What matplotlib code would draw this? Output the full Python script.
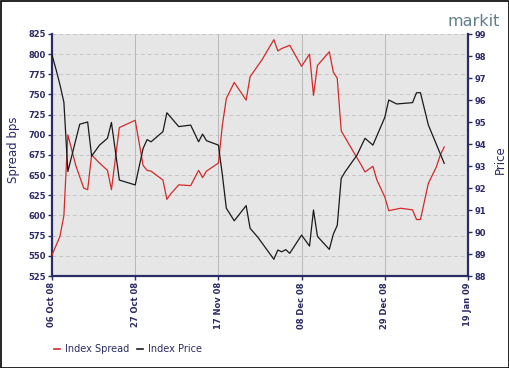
import matplotlib
matplotlib.use("Agg")
import matplotlib.pyplot as plt
import matplotlib.dates as mdates
import pandas as pd
from matplotlib.lines import Line2D
from matplotlib.patches import Rectangle

start = pd.Timestamp("2008-10-06")

# Index Spread (bps): day offsets from 06 Oct 08 and values
spread_days = [0, 2, 3, 4, 6, 8, 9, 10, 12, 14, 15, 17, 21, 23, 24, 25, 28, 29, 30, 32,
               35, 37, 38, 39, 42, 43, 44, 46, 49, 50, 53, 56, 57, 58, 60, 63, 65, 66,
               67, 70, 71, 72, 73, 75, 78, 79, 81, 82, 84, 85, 88, 91, 92, 93, 95, 97,
               98, 99]
spread_vals = [551, 574, 600, 700, 662, 634, 632, 675, 665, 656, 632, 709, 718, 662, 656,
               655, 644, 620, 627, 638, 637, 656, 647, 655, 665, 712, 745, 765, 743, 772,
               793, 818, 804, 807, 811, 785, 800, 749, 786, 803, 778, 770, 705, 688, 663,
               654, 661, 644, 623, 606, 609, 607, 595, 595, 640, 660, 675, 685]

# Index Price: day offsets from 06 Oct 08 and values
price_days = [0, 1, 2, 3, 4, 7, 9, 10, 12, 14, 15, 17, 21, 23, 24, 25, 28, 29, 32, 35,
              37, 38, 39, 42, 43, 44, 46, 49, 50, 52, 56, 57, 58, 59, 60, 63, 65, 66, 67,
              70, 71, 72, 73, 74, 77, 79, 81, 84, 85, 87, 91, 92, 93, 95, 99]
price_vals = [98.05, 97.4, 96.7, 95.9, 92.75, 94.9, 95.0, 93.45, 93.95, 94.26, 94.98,
              92.36, 92.14, 93.8, 94.2, 94.1, 94.56, 95.42, 94.79, 94.86, 94.1, 94.45,
              94.15, 93.95, 92.6, 91.08, 90.51, 91.2, 90.17, 89.75, 88.76, 89.18, 89.1,
              89.2, 89.03, 89.86, 89.36, 91.0, 89.8, 89.21, 89.9, 90.3, 92.44, 92.74, 93.5,
              94.26, 93.95, 95.21, 96.0, 95.82, 95.88, 96.33, 96.33, 94.86, 93.12]

xtick_days = [0, 21, 42, 63, 84, 105]
spread_ticks = list(range(525, 826, 25))
price_ticks = list(range(88, 100))

NAVY = "#2b2b66"
RED = "#d42a2a"
BLACK = "#1a1a1a"

spread_dates = [start + pd.Timedelta(days=d) for d in spread_days]
price_dates = [start + pd.Timedelta(days=d) for d in price_days]
xtick_dates = [start + pd.Timedelta(days=d) for d in xtick_days]

fig = plt.figure(figsize=(5.10, 3.68), dpi=100)
fig.patch.set_facecolor("white")
ax = fig.add_axes([52 / 510, 1 - 276 / 368, 416 / 510, 242 / 368])
ax.set_facecolor("#e6e6e6")
ax2 = ax.twinx()

ax.plot(spread_dates, spread_vals, color=RED, lw=0.9, zorder=3)
ax2.plot(price_dates, price_vals, color=BLACK, lw=0.9, zorder=3)

ax.set_xlim(xtick_dates[0], xtick_dates[-1])
ax.set_ylim(525, 825)
ax2.set_ylim(88, 99)
ax.set_xticks(xtick_dates)
ax.xaxis.set_major_formatter(mdates.DateFormatter("%d %b %y"))
ax.set_yticks(spread_ticks)
ax2.set_yticks(price_ticks)

for t in ax.get_xticklabels():
    t.set_rotation(90)
for a in (ax, ax2):
    a.tick_params(axis="both", colors=NAVY, labelsize=6, length=3, width=1, pad=1.5)
    for t in a.get_xticklabels() + a.get_yticklabels():
        t.set_fontweight("bold")
        t.set_color(NAVY)
    for s in a.spines.values():
        s.set_visible(False)

ax.spines["left"].set_visible(True)
ax.spines["bottom"].set_visible(True)
ax2.spines["right"].set_visible(True)
for s in (ax.spines["left"], ax.spines["bottom"], ax2.spines["right"]):
    s.set_color(NAVY)
    s.set_linewidth(1.6)

ax.yaxis.grid(True, color="#c4c4c4", lw=0.7, ls=(0, (4, 3)))
ax.xaxis.grid(True, color="#b8b8b8", lw=0.7, ls="-")
ax.set_axisbelow(True)
ax2.patch.set_visible(False)

fig.text(14 / 510, 1 - 150 / 368, "Spread bps", rotation=90, ha="center", va="center",
         fontsize=8.5, color=NAVY)
fig.text(500 / 510, 1 - 160 / 368, "Price", rotation=90, ha="center", va="center",
         fontsize=8.5, color=NAVY)

fig.text(500 / 510, 1 - 22 / 368, "markit", ha="right", va="center", fontsize=11.5,
         color="#5f7f8c", family="DejaVu Sans")

handles = [Line2D([], [], color=RED, lw=1.2), Line2D([], [], color=BLACK, lw=1.2)]
leg = fig.legend(handles, ["Index Spread", "Index Price"], loc="center",
                 bbox_to_anchor=(128 / 510, 1 - 349 / 368), ncol=2, frameon=False,
                 fontsize=7, handlelength=0.6, handletextpad=0.5, columnspacing=0.8)
for t in leg.get_texts():
    t.set_color(NAVY)

fig.patches.append(Rectangle((0.001, 0.001), 0.997, 0.997, transform=fig.transFigure,
                             fill=False, edgecolor="black", lw=1.2))

fig.savefig("out.png", dpi=100)
